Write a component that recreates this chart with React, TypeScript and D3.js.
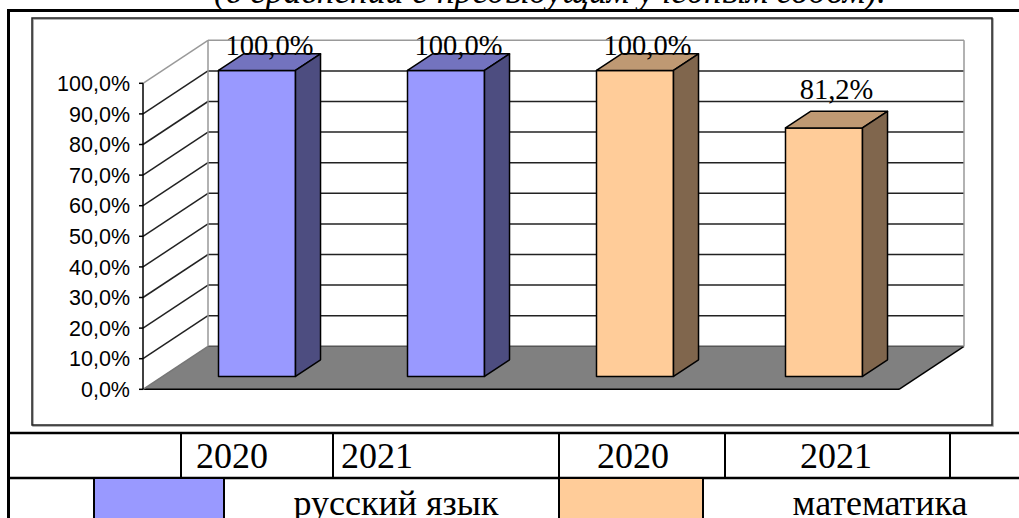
import React from 'react';
import * as d3 from 'd3';

// chart data
const years = ['2020', '2021', '2020', '2021'];
const barValues = [100, 100, 100, 81.2];
const barSubject = [0, 0, 1, 1];
const subjects = ['русский язык', 'математика'];
const yTicks = [0, 10, 20, 30, 40, 50, 60, 70, 80, 90, 100];
const title = '(в сравнении с предыдущим учебным годом).';

const frontColors = ['#9999ff', '#ffcc99'];
const topColors = ['#7373bf', '#bf9973'];
const sideColors = ['#4d4d80', '#80664d'];

const W = 1019;
const H = 518;
// depth of the 3d box
const DX = 65;
const DY = 43;
const Z0 = 0.3;
const Z1 = 0.685;

const locale = d3.formatLocale({ decimal: ',', thousands: ' ', grouping: [3], currency: ['', ''] });
const fmt = (v: number) => locale.format('.1f')(v) + '%';

export default function App() {
  const x = d3.scaleBand<number>().domain(d3.range(years.length)).range([143, 899]).padding(0);
  const y = d3.scaleLinear().domain([0, 100]).range([389.3, 83.3]);
  const barW = 77;

  const P = (px: number, py: number, z: number) => `${px + DX * z},${py - DY * z}`;
  const x0 = x.range()[0];
  const x1 = x.range()[1];

  const serif = 'Liberation Serif, Times New Roman, serif';
  const sans = 'Liberation Sans, Arial, sans-serif';

  // table layout
  const tTop = 433;
  const tMid = 478;
  const row1Lines = [181, 333, 559, 725, 950];
  const yearCenters = [232, 377, 633, 836];
  const row2Lines = [94, 224, 559, 703];
  const swatches = [
    [94, 224],
    [559, 703],
  ];
  const subjectCenters = [396, 880];

  return (
    <svg width={W} height={H} style={{ position: 'absolute', left: 0, top: 0, background: '#fff' }}>
      <rect width={W} height={H} fill="#fff" />
      <text x={214} y={2.5} fontFamily={serif} fontStyle="italic" fontSize={36} textLength={672} lengthAdjust="spacingAndGlyphs">
        {title}
      </text>

      {/* inner chart frame */}
      <rect x={33} y={19} width={960} height={407} fill="none" stroke="#999" strokeWidth={1.5} />
      <rect x={32} y={18} width={960} height={407} fill="none" stroke="#222" strokeWidth={1.5} />

      {/* floor */}
      <polygon
        points={[P(x0, y(0), 0), P(x0, y(0), 1), P(x1, y(0), 1), P(x1, y(0), 0)].join(' ')}
        fill="#808080"
      />
      <line x1={x0} y1={y(0)} x2={x1} y2={y(0)} stroke="#000" strokeWidth={1.5} />
      <line x1={x1} y1={y(0)} x2={x1 + DX} y2={y(0) - DY} stroke="#000" strokeWidth={1.5} />
      <line x1={x0 + DX} y1={y(0) - DY} x2={x1 + DX} y2={y(0) - DY} stroke="#555" strokeWidth={1.5} />
      <line x1={x0} y1={y(0)} x2={x0 + DX} y2={y(0) - DY} stroke="#777" strokeWidth={1.5} />

      {/* walls */}
      {yTicks.slice(1).map((t) => {
        const c = t === 100 ? '#999' : '#222';
        return (
          <g key={t}>
            <line x1={x0} y1={y(t)} x2={x0 + DX} y2={y(t) - DY} stroke={c} strokeWidth={1.5} />
            <line x1={x0 + DX} y1={y(t) - DY} x2={x1 + DX} y2={y(t) - DY} stroke={c} strokeWidth={1.5} />
          </g>
        );
      })}
      <line x1={x0 + DX} y1={y(100) - DY} x2={x0 + DX} y2={y(0) - DY} stroke="#999" strokeWidth={1.5} />
      <line x1={x1 + DX} y1={y(100) - DY} x2={x1 + DX} y2={y(0) - DY} stroke="#999" strokeWidth={1.5} />

      {/* y axis */}
      <line x1={x0} y1={y(100)} x2={x0} y2={y(0)} stroke="#000" strokeWidth={1.5} />
      {yTicks.map((t) => (
        <g key={t}>
          <line x1={x0 - 4} y1={y(t)} x2={x0} y2={y(t)} stroke="#000" strokeWidth={1.5} />
          <text x={130} y={y(t)} dy="0.36em" textAnchor="end" fontFamily={sans} fontSize={21.5}>
            {fmt(t)}
          </text>
        </g>
      ))}

      {/* bars */}
      {barValues.map((v, i) => {
        const s = barSubject[i];
        const bx0 = (x(i) as number) + (x.bandwidth() - barW) / 2;
        const bx1 = bx0 + barW;
        const yt = y(v);
        const yb = y(0);
        const lblY = Math.max(yt - DY * Z1 - 12, 55);
        return (
          <g key={i} stroke="#000" strokeWidth={1.5} strokeLinejoin="round">
            <polygon points={[P(bx0, yt, Z0), P(bx1, yt, Z0), P(bx1, yb, Z0), P(bx0, yb, Z0)].join(' ')} fill={frontColors[s]} />
            <polygon points={[P(bx0, yt, Z0), P(bx1, yt, Z0), P(bx1, yt, Z1), P(bx0, yt, Z1)].join(' ')} fill={topColors[s]} />
            <polygon points={[P(bx1, yt, Z0), P(bx1, yt, Z1), P(bx1, yb, Z1), P(bx1, yb, Z0)].join(' ')} fill={sideColors[s]} />
            <text
              x={(bx0 + bx1) / 2 + DX * (Z0 + Z1) / 2}
              y={lblY}
              stroke="none"
              fill="#000"
              textAnchor="middle"
              fontFamily={serif}
              fontSize={28.5}
            >
              {fmt(v)}
            </text>
          </g>
        );
      })}

      {/* table below */}
      <g stroke="#000">
        <line x1={8} y1={10.5} x2={W} y2={10.5} strokeWidth={3} />
        <line x1={8.5} y1={9} x2={8.5} y2={H} strokeWidth={3} />
        <line x1={8} y1={tTop} x2={W} y2={tTop} strokeWidth={2.5} />
        <line x1={8} y1={tMid} x2={W} y2={tMid} strokeWidth={2.5} />
        {row1Lines.map((lx) => (
          <line key={lx} x1={lx} y1={tTop} x2={lx} y2={tMid} strokeWidth={2} />
        ))}
      </g>
      {swatches.map(([a, b], i) => (
        <rect key={i} x={a} y={tMid + 1} width={b - a} height={H - tMid} fill={frontColors[i]} />
      ))}
      <g stroke="#000">
        {row2Lines.map((lx) => (
          <line key={lx} x1={lx} y1={tMid} x2={lx} y2={H} strokeWidth={2} />
        ))}
      </g>
      {years.map((yr, i) => (
        <text key={i} x={yearCenters[i]} y={468} textAnchor="middle" fontFamily={serif} fontSize={36}>
          {yr}
        </text>
      ))}
      {subjects.map((s, i) => (
        <text key={s} x={subjectCenters[i]} y={515} textAnchor="middle" fontFamily={serif} fontSize={36}>
          {s}
        </text>
      ))}
    </svg>
  );
}
